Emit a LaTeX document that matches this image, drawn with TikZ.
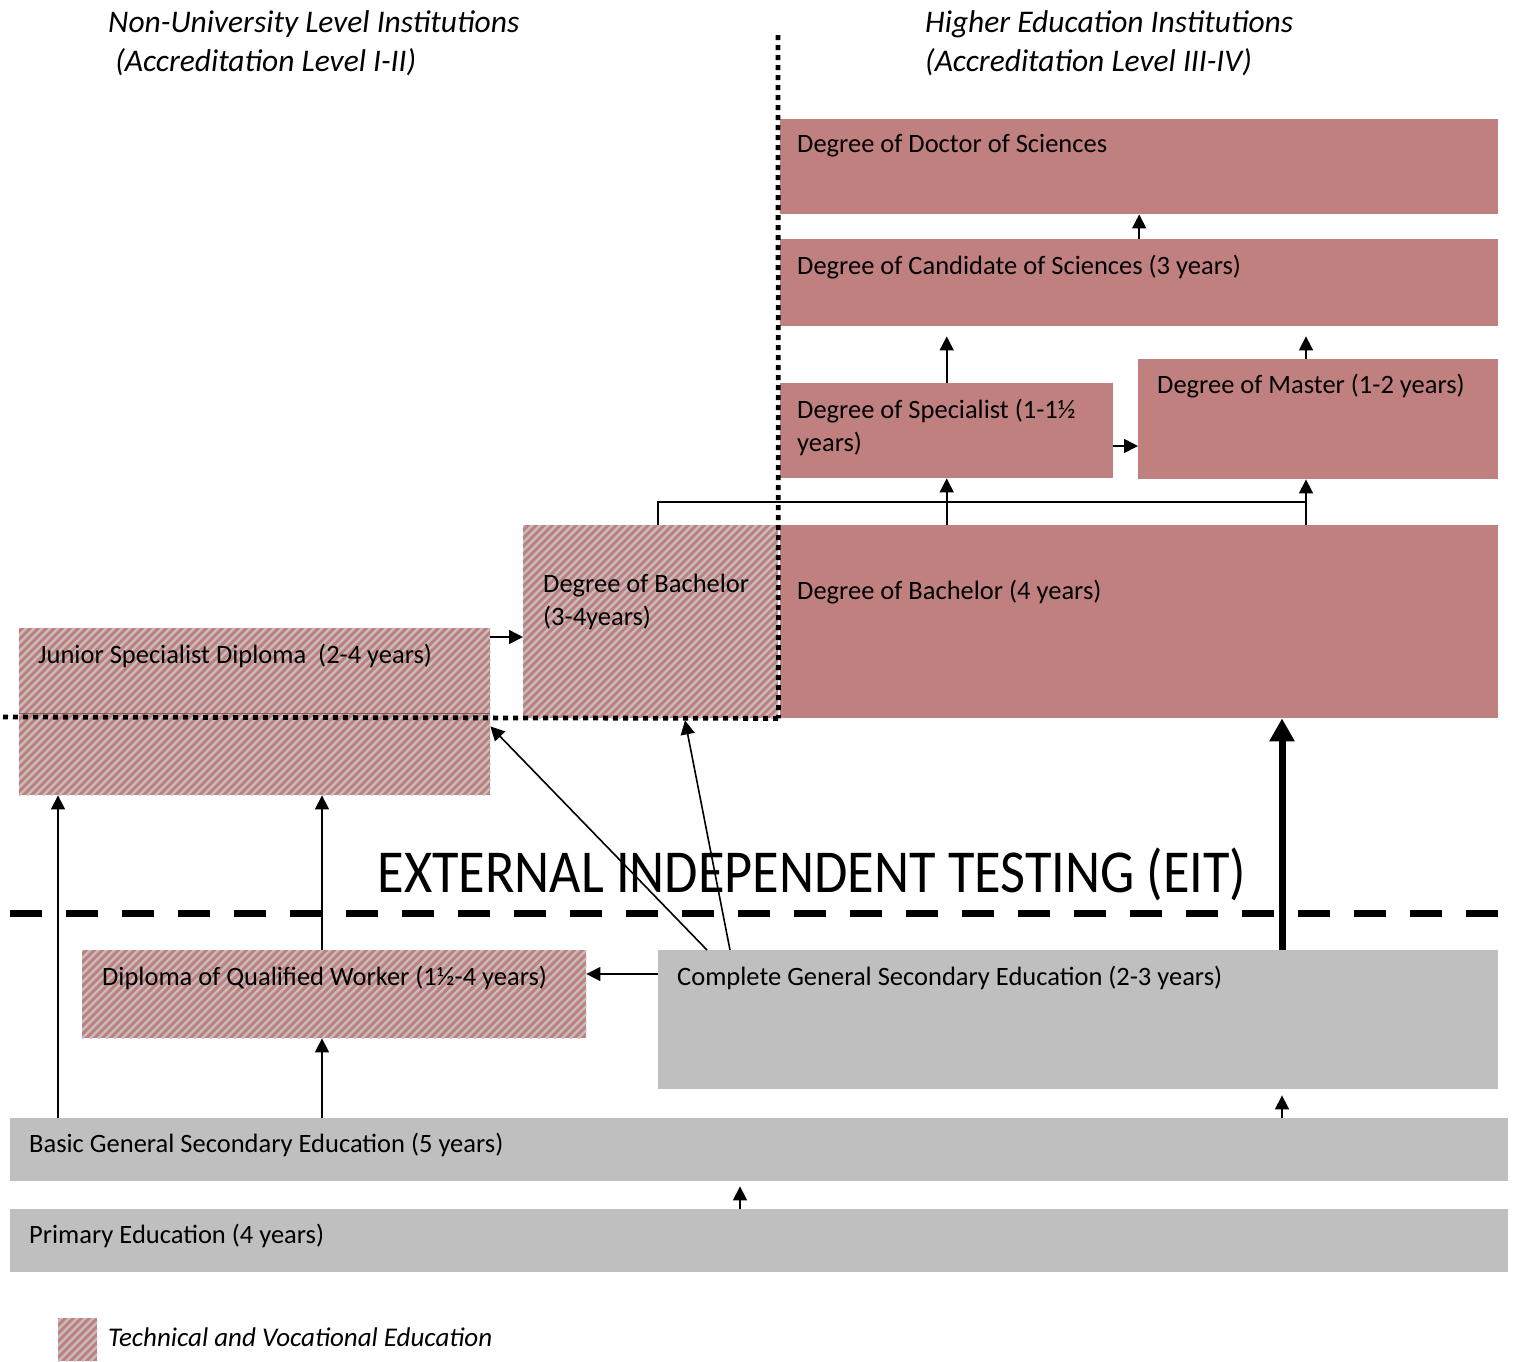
\documentclass[tikz,border=0pt]{standalone}
\usepackage{fontspec}
\setmainfont{Carlito}
\usetikzlibrary{arrows.meta,calc}
\definecolor{rose}{HTML}{C0807F}
\definecolor{lgray}{HTML}{BFBFBF}
\definecolor{hgray}{HTML}{C6BFBF}
\newcommand{\hatchfill}[1]{%
  \begin{scope}
    \clip (#1.south west) rectangle (#1.north east);
    \foreach \k in {0,8,...,720}
      \draw[hgray, line width=2.3pt] ($(#1.south west)+(\k-200,0)$) -- ++(200,-200);
  \end{scope}}
\begin{document}
\begin{tikzpicture}[x=1pt,y=-1pt,
  rosebox/.style={fill=rose, inner sep=0, anchor=north west},
  graybox/.style={fill=lgray, inner sep=0, anchor=north west},
  hatchbox/.style={fill=rose, inner sep=0, anchor=north west},
  lbl/.style={anchor=west, inner sep=0, font=\fontsize{26.5}{33}\selectfont, align=left},
  head/.style={anchor=west, inner sep=0, font=\fontsize{31.5}{39}\selectfont\itshape, align=left},
  arr/.style={-{Triangle[length=14pt,width=14pt]}, line width=1.6pt},
  thickarr/.style={-{Triangle[length=23pt,width=24pt]}, line width=7pt},
  dotline/.style={line width=4.8pt, dash pattern=on 5pt off 5pt},
  eitline/.style={line width=7pt, dash pattern=on 32pt off 24pt},
]
\useasboundingbox (0,0) rectangle (1515,1361);

% headings
\node[head] (hl) at (108,43) {Non-University Level Institutions\\\ (Accreditation Level I-II)};
\node[head] (hr) at (925,43) {Higher Education Institutions\\(Accreditation Level III-IV)};

% boxes
\node[rosebox, minimum width=718pt, minimum height=95pt] (doc) at (780,119) {};
\node[rosebox, minimum width=718pt, minimum height=87pt] (cand) at (780,239) {};
\node[rosebox, minimum width=333pt, minimum height=95pt] (spec) at (780,383) {};
\node[rosebox, minimum width=360pt, minimum height=120pt] (mast) at (1138,359) {};
\node[rosebox, minimum width=718pt, minimum height=193pt] (b4) at (780,525) {};
\node[hatchbox, minimum width=255pt, minimum height=193pt] (bh) at (523,525) {};
\node[hatchbox, minimum width=471pt, minimum height=167pt] (jun) at (19,628) {};
\node[hatchbox, minimum width=504pt, minimum height=88pt] (wrk) at (82,950) {};
\node[graybox, minimum width=840pt, minimum height=139pt] (cge) at (658,950) {};
\node[graybox, minimum width=1498pt, minimum height=63pt] (bas) at (10,1118) {};
\node[graybox, minimum width=1498pt, minimum height=63pt] (pri) at (10,1209) {};
\node[hatchbox, minimum width=39pt, minimum height=43pt] (leg) at (58,1318) {};
\hatchfill{bh}
\hatchfill{jun}
\hatchfill{wrk}
\hatchfill{leg}

\draw[rose!70!black, line width=0.6pt] ($(jun.north west)+(0,85)$) -- ($(jun.north east)+(0,85)$);

% labels
\node[lbl] (docT) at (797,146) {Degree of Doctor of Sciences};
\node[lbl] (candT) at (797,267) {Degree of Candidate of Sciences (3 years)};
\node[lbl] (specT) at (797,427) {Degree of Specialist (1-1½\\years)};
\node[lbl] (mastT) at (1157,386) {Degree of Master (1-2 years)};
\node[lbl] (b4T) at (797,592) {Degree of Bachelor (4 years)};
\node[lbl] (bhT) at (543,602) {Degree of Bachelor\\(3-4years)};
\node[lbl] (junT) at (38,656) {Junior Specialist Diploma\ \ (2-4 years)};
\node[lbl] (wrkT) at (102,978) {Diploma of Qualified Worker (1½-4 years)};
\node[lbl] (cgeT) at (677,978) {Complete General Secondary Education (2-3 years)};
\node[lbl] (basT) at (29,1145) {Basic General Secondary Education (5 years)};
\node[lbl] (priT) at (29,1236) {Primary Education (4 years)};
\node[head, font=\fontsize{27}{30}\selectfont\itshape] (legT) at (108,1337) {Technical and Vocational Education};

% EIT
\node[inner sep=0, font=\fontsize{61}{70}\selectfont] (eit) at (812,874) {\scalebox{0.89}[1]{EXTERNAL INDEPENDENT TESTING (EIT)}};
\coordinate (e1) at (10,913);
\coordinate (e2) at (1498,913);
\draw[eitline] (e1) -- (e2);

% dotted boundaries
\coordinate (d1) at (3,717);
\coordinate (d2) at (778,35);
\draw[dotline] (d1) -- (bh.south east);
\draw[dotline] (d2) -- (bh.south east);

% helper x positions
\coordinate (xa) at (58,0);
\coordinate (xb) at (322,0);
\coordinate (xc) at (1282,0);
\coordinate (xd) at (740,0);
\coordinate (xm) at (1306,0);
\coordinate (j1) at (658,502);
\coordinate (j3) at (1306,502);

% arrows upper part
\draw[arr] (cand.north) -- (doc.south);
\draw[arr] (spec.north) -- ($(cand.south -| spec.north)+(0,10)$);
\draw[arr] (mast.north -| xm) -- ($(cand.south -| xm)+(0,10)$);
\draw[arr] ($(spec.north east)+(0,63)$) -- ($(mast.north west)+(0,87)$);
\draw[line width=1.6pt] (bh.north -| j1) -- (j1) -- (j3) -- (b4.north -| j3);
\draw[arr] (b4.north -| spec.south) -- (spec.south);
\draw[arr] (b4.north -| xm) -- (mast.south -| xm);
\draw[arr] ($(jun.north east)+(0,9)$) -- ($(bh.north west)+(0,112)$);

% arrows from complete secondary
\draw[arr] ($(cge.north west)+(49,0)$) -- ($(jun.south east)+(0,-69)$);
\draw[arr] ($(cge.north west)+(72,0)$) -- ($(bh.south west)+(162,2)$);
\draw[arr] ($(cge.north west)+(0,24)$) -- ($(wrk.north east)+(0,24)$);
\draw[thickarr] (cge.north -| xc) -- (b4.south -| xc);

% lower arrows
\draw[arr] (wrk.north -| xb) -- (jun.south -| xb);
\draw[arr] (bas.north -| xa) -- (jun.south -| xa);
\draw[arr] (bas.north -| xb) -- (wrk.south -| xb);
\draw[arr] (bas.north -| xc) -- ($(cge.south -| xc)+(0,6)$);
\draw[arr] (pri.north -| xd) -- ($(bas.south -| xd)+(0,5)$);
\end{tikzpicture}
\end{document}
